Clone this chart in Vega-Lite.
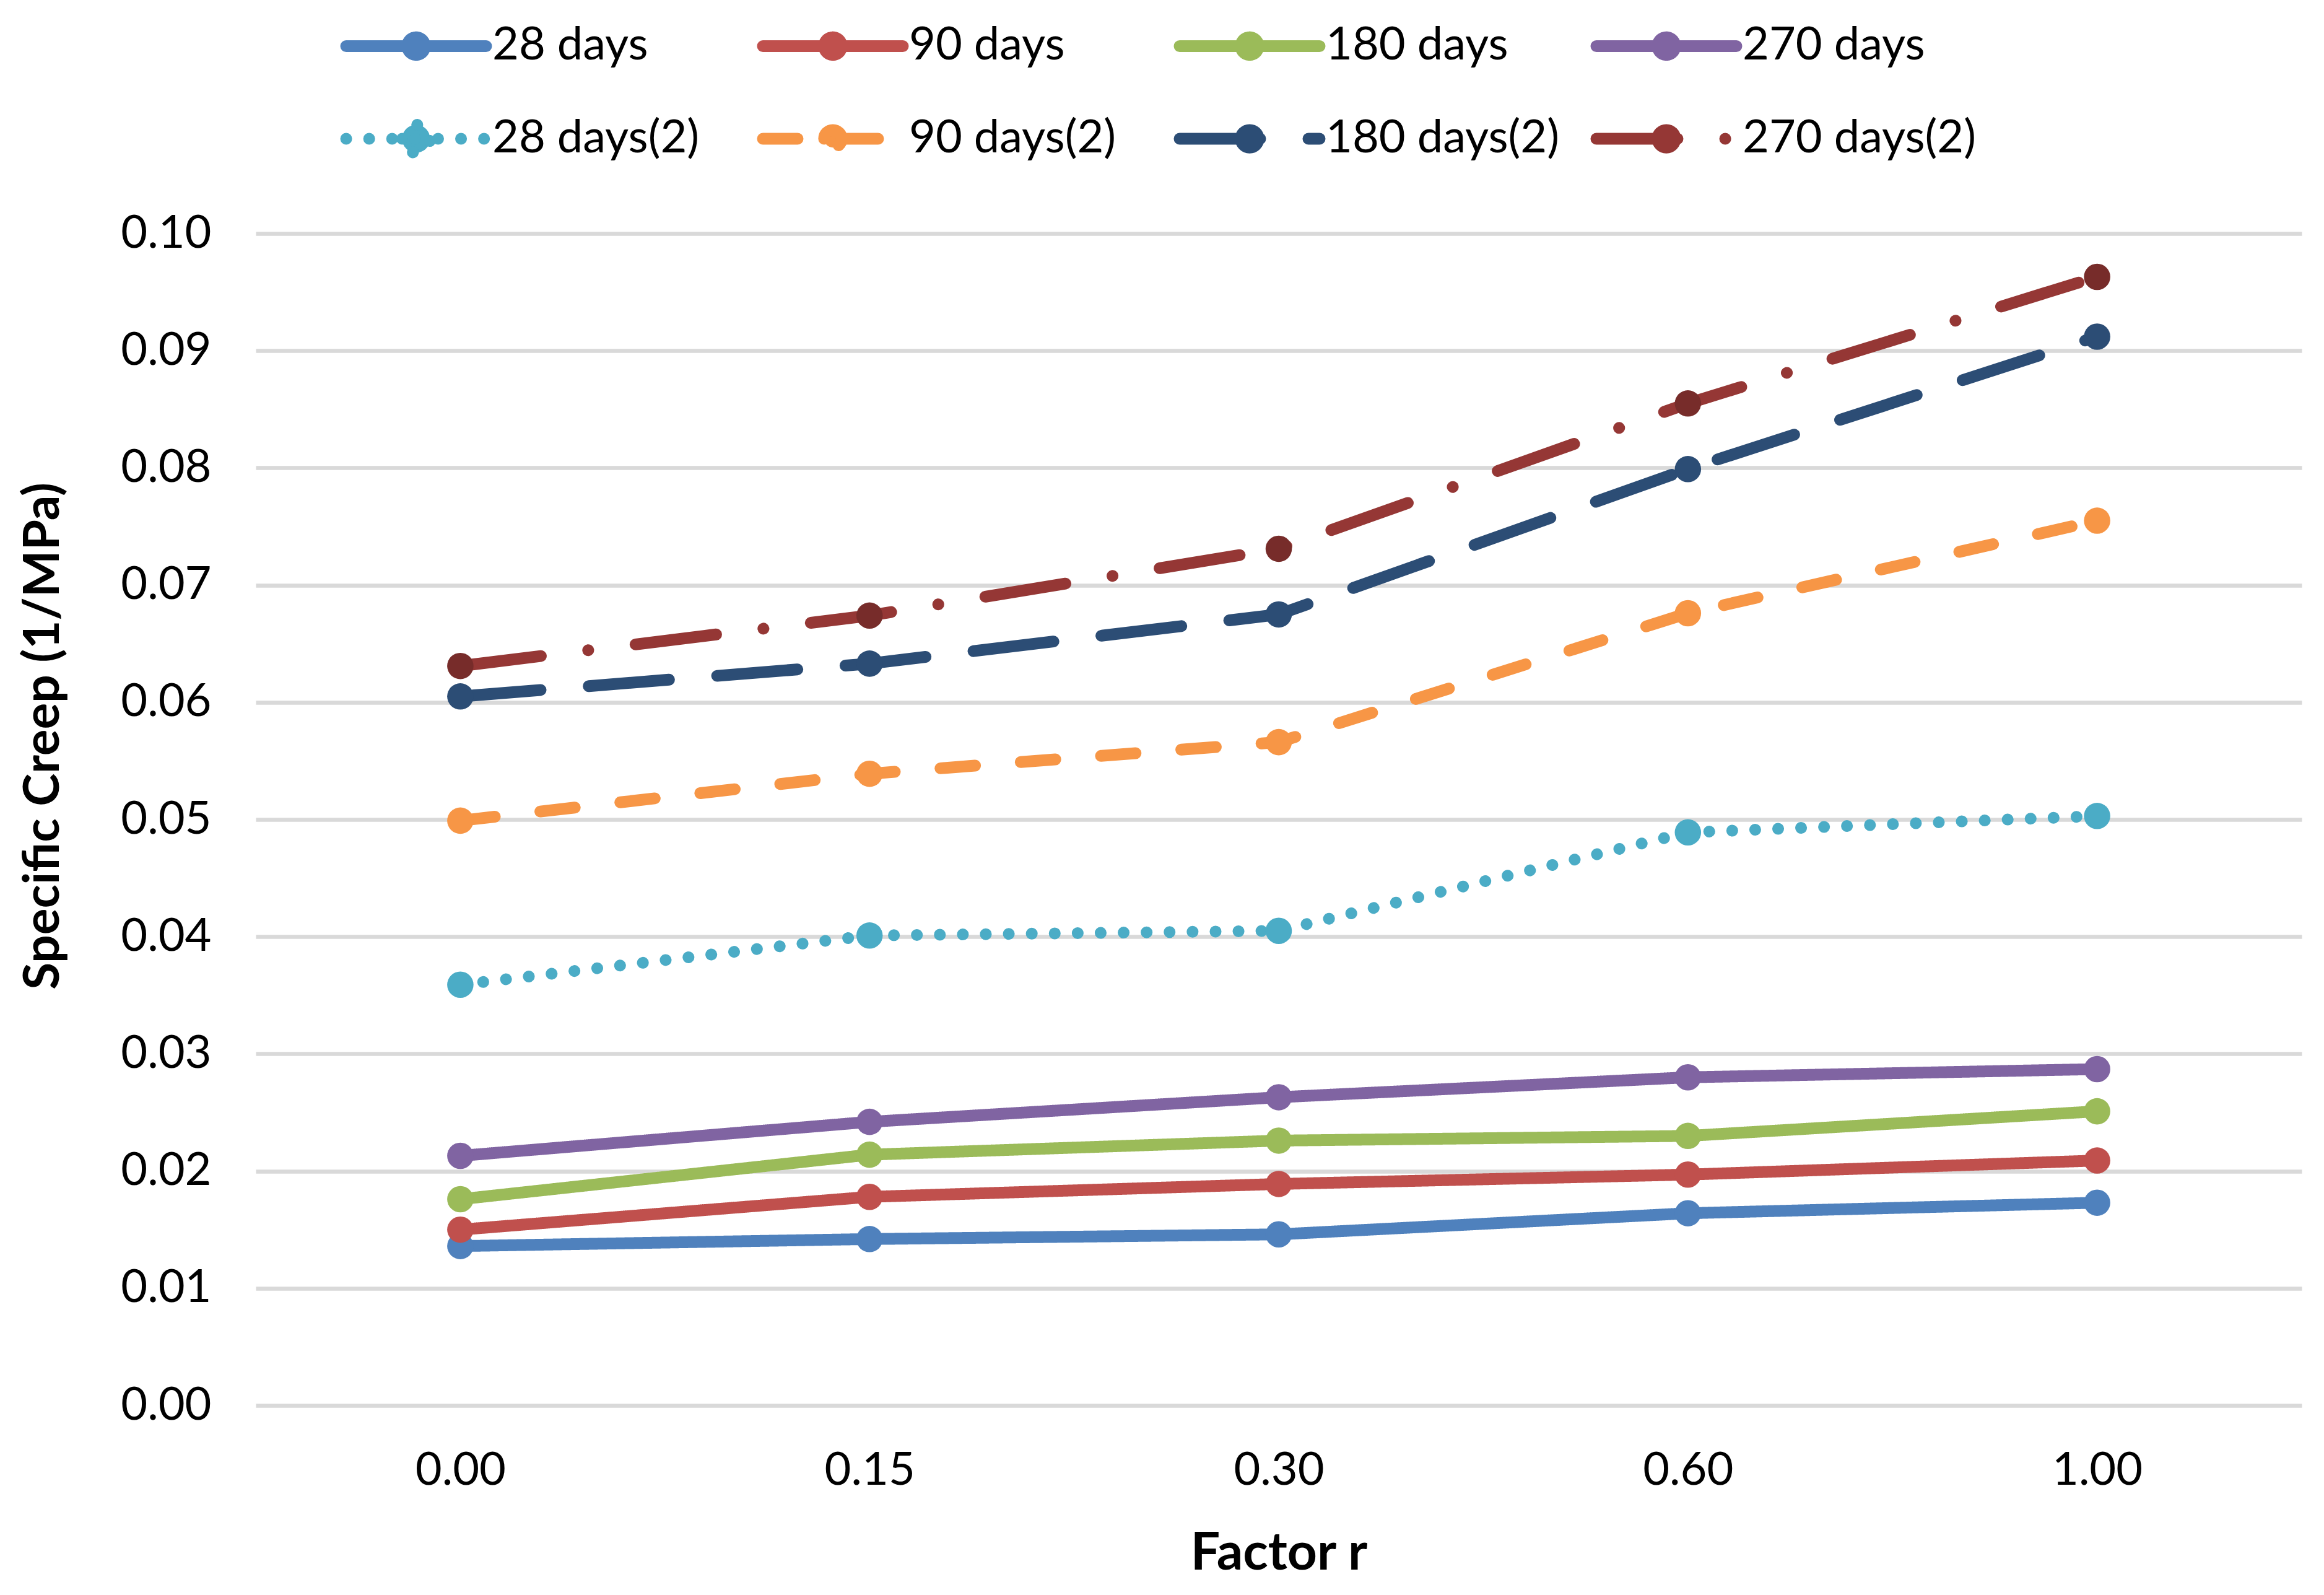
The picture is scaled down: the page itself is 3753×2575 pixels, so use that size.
{
  "$schema": "https://vega.github.io/schema/vega-lite/v6.json",
  "width": 3304,
  "height": 1892,
  "autosize": {"type": "none"},
  "padding": {"left": 413, "top": 377, "right": 36, "bottom": 306},
  "background": "white",
  "config": {
    "font": "Lato",
    "view": {"stroke": null},
    "axis": {"labelColor": "#000000", "titleColor": "#000000", "labelFont": "Lato", "titleFont": "Lato"},
    "legend": {"labelColor": "#000000", "labelFont": "Lato"}
  },
  "data": {
    "values": [
      {"series": "28 days", "r": "0.00", "v": 0.0136},
      {"series": "28 days", "r": "0.15", "v": 0.0142},
      {"series": "28 days", "r": "0.30", "v": 0.0146},
      {"series": "28 days", "r": "0.60", "v": 0.0164},
      {"series": "28 days", "r": "1.00", "v": 0.0173},
      {"series": "90 days", "r": "0.00", "v": 0.0150},
      {"series": "90 days", "r": "0.15", "v": 0.0178},
      {"series": "90 days", "r": "0.30", "v": 0.0189},
      {"series": "90 days", "r": "0.60", "v": 0.0197},
      {"series": "90 days", "r": "1.00", "v": 0.0209},
      {"series": "180 days", "r": "0.00", "v": 0.0176},
      {"series": "180 days", "r": "0.15", "v": 0.0214},
      {"series": "180 days", "r": "0.30", "v": 0.0226},
      {"series": "180 days", "r": "0.60", "v": 0.0230},
      {"series": "180 days", "r": "1.00", "v": 0.0251},
      {"series": "270 days", "r": "0.00", "v": 0.0213},
      {"series": "270 days", "r": "0.15", "v": 0.0242},
      {"series": "270 days", "r": "0.30", "v": 0.0263},
      {"series": "270 days", "r": "0.60", "v": 0.0280},
      {"series": "270 days", "r": "1.00", "v": 0.0287},
      {"series": "28 days(2)", "r": "0.00", "v": 0.0359},
      {"series": "28 days(2)", "r": "0.15", "v": 0.0401},
      {"series": "28 days(2)", "r": "0.30", "v": 0.0405},
      {"series": "28 days(2)", "r": "0.60", "v": 0.0489},
      {"series": "28 days(2)", "r": "1.00", "v": 0.0503},
      {"series": "90 days(2)", "r": "0.00", "v": 0.0499},
      {"series": "90 days(2)", "r": "0.15", "v": 0.0539},
      {"series": "90 days(2)", "r": "0.30", "v": 0.0566},
      {"series": "90 days(2)", "r": "0.60", "v": 0.0676},
      {"series": "90 days(2)", "r": "1.00", "v": 0.0755},
      {"series": "180 days(2)", "r": "0.00", "v": 0.0605},
      {"series": "180 days(2)", "r": "0.15", "v": 0.0633},
      {"series": "180 days(2)", "r": "0.30", "v": 0.0675},
      {"series": "180 days(2)", "r": "0.60", "v": 0.0799},
      {"series": "180 days(2)", "r": "1.00", "v": 0.0912},
      {"series": "270 days(2)", "r": "0.00", "v": 0.0631},
      {"series": "270 days(2)", "r": "0.15", "v": 0.0674},
      {"series": "270 days(2)", "r": "0.30", "v": 0.0731},
      {"series": "270 days(2)", "r": "0.60", "v": 0.0855},
      {"series": "270 days(2)", "r": "1.00", "v": 0.0963}
    ]
  },
  "encoding": {
    "x": {
      "field": "r",
      "type": "ordinal",
      "sort": ["0.00", "0.15", "0.30", "0.60", "1.00"],
      "scale": {"type": "point", "padding": 0.5},
      "title": "Factor r",
      "axis": {
        "labelAngle": 0,
        "domain": false,
        "ticks": false,
        "grid": false,
        "labelFontSize": 74,
        "labelPadding": 69,
        "titleFontSize": 84,
        "titleFontWeight": "bold",
        "titlePadding": 56
      }
    },
    "y": {
      "field": "v",
      "type": "quantitative",
      "scale": {"domain": [0, 0.1], "nice": false},
      "title": "Specific Creep (1/MPa)",
      "axis": {
        "values": [0, 0.01, 0.02, 0.03, 0.04, 0.05, 0.06, 0.07, 0.08, 0.09, 0.1],
        "format": ".2f",
        "domain": false,
        "ticks": false,
        "grid": true,
        "gridColor": "#D9D9D9",
        "gridWidth": 6.5,
        "labelFontSize": 74,
        "labelPadding": 72,
        "titleFontSize": 80,
        "titleFontWeight": "bold",
        "titlePadding": 102,
        "titleY": 811
      }
    }
  },
  "layer": [
    {
      "mark": {"type": "line", "strokeWidth": 19, "strokeCap": "round", "strokeJoin": "round"},
      "encoding": {
        "color": {
          "field": "series",
          "type": "nominal",
          "scale": {
            "domain": ["28 days", "90 days", "180 days", "270 days", "28 days(2)", "90 days(2)", "180 days(2)", "270 days(2)"],
            "range": ["#4F81BD", "#C0504D", "#9BBB59", "#8064A2", "#4BACC6", "#F79646", "#2C4D75", "#953735"]
          },
          "legend": {
            "title": null,
            "orient": "none",
            "legendX": 193,
            "legendY": -373,
            "direction": "horizontal",
            "columns": 4,
            "gridAlign": "all",
            "columnPadding": 22,
            "rowPadding": 27,
            "labelFontSize": 74,
            "labelLimit": 1000,
            "labelOffset": 57,
            "symbolType": "M-2,0L2,0M-0.25,0A0.25,0.25 0 1,1 0.25,0A0.25,0.25 0 1,1 -0.25,0Z",
            "symbolSize": 12769,
            "symbolStrokeWidth": 19,
            "symbolOpacity": 1,
            "encode": {
              "symbols": {
                "update": {
                  "fill": {"signal": "datum.value === '270 days(2)' ? '#772C2A' : scale('color', datum.value)"},
                  "shape": {"signal": "datum.value === '28 days(2)' ? 'M-2,0L2,0M-0.4,0A0.4,0.4 0 1,1 0.4,0A0.4,0.4 0 1,1 -0.4,0Z' : 'M-2,0L2,0M-0.25,0A0.25,0.25 0 1,1 0.25,0A0.25,0.25 0 1,1 -0.25,0Z'"},
                  "strokeCap": {"value": "round"}
                }
              }
            }
          }
        },
        "strokeDash": {
          "field": "series",
          "type": "nominal",
          "scale": {
            "domain": ["28 days", "90 days", "180 days", "270 days", "28 days(2)", "90 days(2)", "180 days(2)", "270 days(2)"],
            "range": [[1, 0], [1, 0], [1, 0], [1, 0], [0.1, 37], [56, 74], [130, 78], [131, 77, 0.1, 77]]
          }
        }
      }
    },
    {
      "mark": {"type": "circle", "size": 1810, "opacity": 1},
      "encoding": {
        "color": {
          "condition": {"test": "datum.series === '270 days(2)'", "value": "#772C2A"},
          "field": "series",
          "type": "nominal",
          "legend": null
        }
      }
    }
  ]
}
